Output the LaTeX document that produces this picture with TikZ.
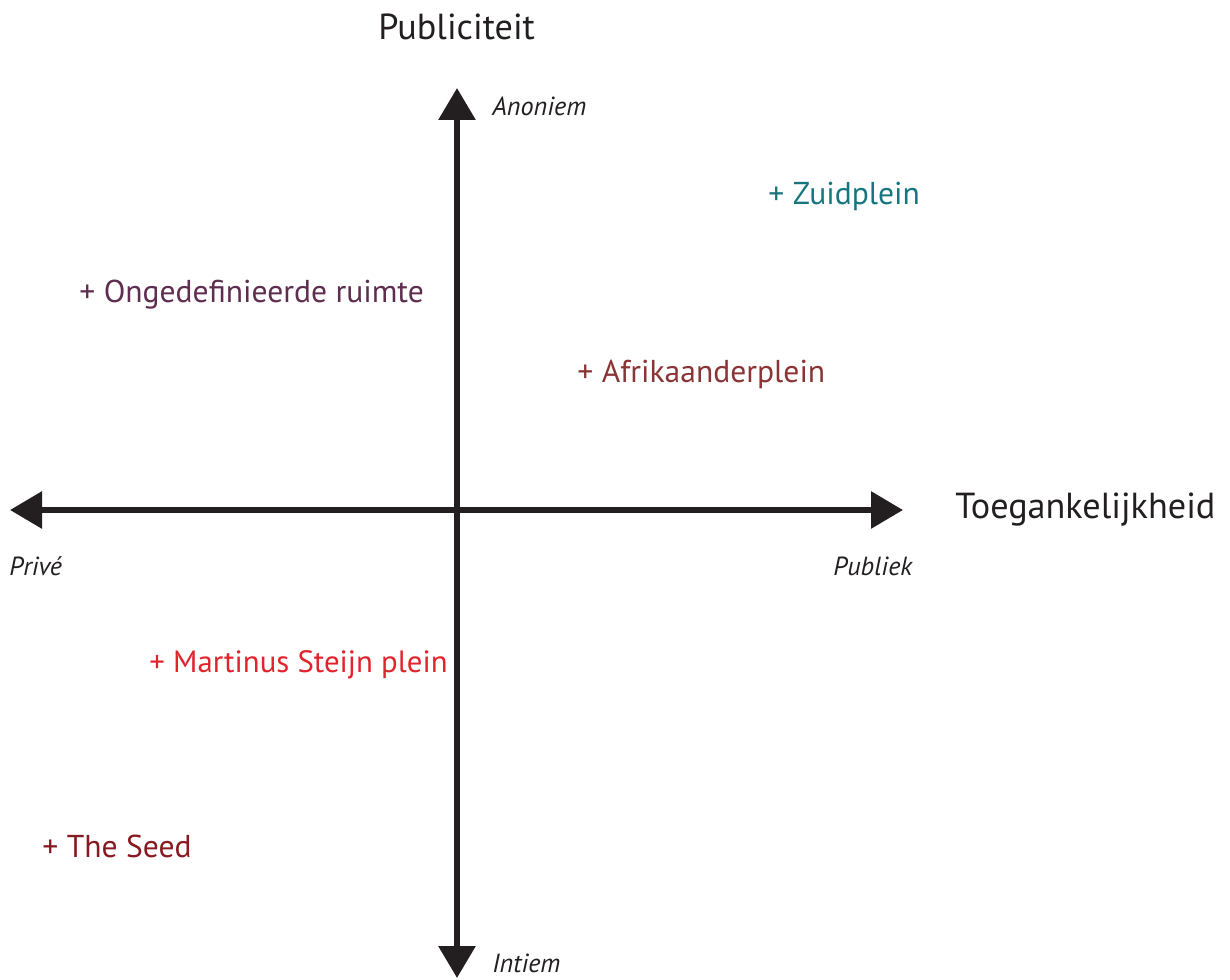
\documentclass[tikz,border=0pt]{standalone}
\usepackage{fontspec}
\setmainfont{PT Sans}
\usetikzlibrary{arrows.meta}
\definecolor{axisgray}{HTML}{231F20}
\definecolor{zuidteal}{HTML}{16767F}
\definecolor{ongepurple}{HTML}{5E2D4F}
\definecolor{afrikared}{HTML}{8A3436}
\definecolor{martinred}{HTML}{E1232B}
\definecolor{seedred}{HTML}{861A20}

\begin{document}
\begin{tikzpicture}[x=0.5pt, y=-0.5pt,
    axis/.style ={draw=axisgray, line width=3pt, {Triangle[length=16pt, width=18pt]}-{Triangle[length=16pt, width=18pt]}},
    title/.style ={anchor=base west, inner sep=0pt, text=axisgray, font=\fontsize{18.1}{20}\selectfont},
    pole/.style ={anchor=base west, inner sep=0pt, text=axisgray, font=\fontsize{13.1}{15}\selectfont\itshape},
    place/.style ={anchor=base west, inner sep=0pt, font=\fontsize{15.8}{18}\selectfont}]
   \useasboundingbox (0,0) rectangle (1230,979);
   \coordinate (W) at (10,510);
   \coordinate (E) at (903,510);
   \coordinate (N) at (457,88);
   \coordinate (S) at (457,978);
   \draw[axis] (W) to (E);
   \draw[axis] (S) to (N);
   \node[title] (publ) at (378,40) {Publiciteit};
   \node[title] (toeg) at (955,518) {Toegankelijkheid};
   \node[pole] (anon) at (492,115) {Anoniem};
   \node[pole] (intiem) at (492,972) {Intiem};
   \node[pole] (prive) at (9,575) {Privé};
   \node[pole] (publiek) at (833,575) {Publiek};
   \node[place, text=zuidteal] (zuid) at (768,204) {+ Zuidplein};
   \node[place, text=ongepurple] (onge) at (79,302) {+ Ongedefinieerde ruimte};
   \node[place, text=afrikared] (afrika) at (577,382) {+ Afrikaanderplein};
   \node[place, text=martinred, font=\fontsize{15.4}{18}\selectfont] (martin) at (149,672) {+ Martinus Steijn plein};
   \node[place, text=seedred] (seed) at (42,857) {+ The Seed};
\end{tikzpicture}
\end{document}
